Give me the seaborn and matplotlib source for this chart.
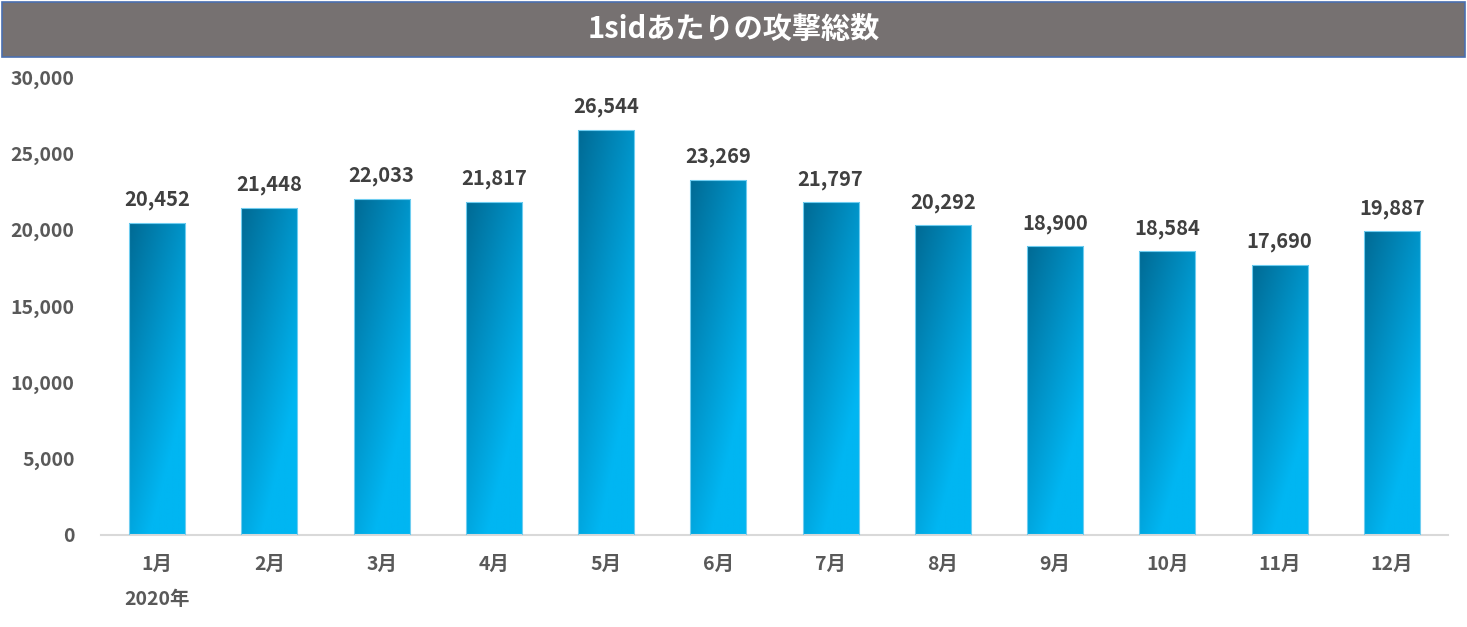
import numpy as np
import pandas as pd
import matplotlib
matplotlib.use('Agg')
import matplotlib.pyplot as plt
from matplotlib.colors import LinearSegmentedColormap
from matplotlib.patches import Rectangle
import seaborn as sns

# 月別データ
meses = ['1月', '2月', '3月', '4月', '5月', '6月', '7月', '8月', '9月', '10月', '11月', '12月']
ataques = [20452, 21448, 22033, 21817, 26544, 23269, 21797, 20292, 18900, 18584, 17690, 19887]
ano_label = '2020年'
titulo = '1sidあたりの攻撃総数'

sns.set_style('white')
plt.rcParams['font.family'] = ['Noto Sans CJK JP', 'DejaVu Sans']
plt.rcParams['font.weight'] = 'bold'

fig = plt.figure(figsize=(14.67, 6.27), dpi=100)
ax = fig.add_axes([101 / 1467, 1 - 535 / 627, (1448 - 101) / 1467, (535 - 77) / 627])

df = pd.DataFrame({'mes': meses, 'ataques': ataques})
sns.barplot(data=df, x='mes', y='ataques', ax=ax, width=0.5, color='#00a0d8')

# gradiente diagonal (canto superior esquerdo escuro -> inferior direito claro)
cmap = LinearSegmentedColormap.from_list('azul', ['#006a94', '#0090c4', '#00b6f2'])
gx, gy = np.meshgrid(np.linspace(0, 1, 60), np.linspace(0, 1, 200))
grad = np.clip(0.55 * gx + 0.8 * gy, 0, 1)
for p in ax.patches:
    x0, y0 = p.get_x(), p.get_y()
    w, h = p.get_width(), p.get_height()
    im = ax.imshow(grad, cmap=cmap, vmin=0, vmax=1, origin='upper',
                   extent=(x0, x0 + w, y0, y0 + h), aspect='auto', zorder=2)
    im.set_clip_path(p)
    p.set_facecolor('none')
    p.set_edgecolor('#6fcdf0')
    p.set_linewidth(0.8)
    p.set_zorder(3)
    ax.annotate(f'{int(y0 + h):,}', (x0 + w / 2, y0 + h), xytext=(0, 9),
                textcoords='offset points', ha='center', va='bottom',
                fontsize=14.5, fontweight='bold', color='#404040')

ax.set_xlim(-0.5, len(meses) - 0.5)
ax.set_ylim(0, 30000)
ax.set_yticks(range(0, 30001, 5000))
ax.yaxis.set_major_formatter(matplotlib.ticker.FuncFormatter(lambda v, _: f'{int(v):,}'))
ax.set_xlabel('')
ax.set_ylabel('')
ax.tick_params(axis='both', length=0, labelsize=14, labelcolor='#595959')
ax.tick_params(axis='x', pad=14)
ax.tick_params(axis='y', pad=19)
for lbl in ax.get_xticklabels() + ax.get_yticklabels():
    lbl.set_fontweight('bold')

for s in ['top', 'right', 'left']:
    ax.spines[s].set_visible(False)
ax.spines['bottom'].set_color('#d9d9d9')
ax.spines['bottom'].set_linewidth(1.5)

ax.text(0, -0.14, ano_label, transform=matplotlib.transforms.blended_transform_factory(ax.transData, ax.transAxes),
        ha='center', va='center', fontsize=14, fontweight='bold', color='#595959')

# faixa do título
fig.patches.append(Rectangle((2 / 1467, 1 - 57 / 627), 1463 / 1467, 55 / 627, transform=fig.transFigure,
                             facecolor='#767171', edgecolor='#4a6fb0', linewidth=1.2, zorder=0))
fig.text(0.5, 1 - 29 / 627, titulo, ha='center', va='center', fontsize=21, fontweight='bold', color='white')

fig.savefig('out.png', dpi=100)
